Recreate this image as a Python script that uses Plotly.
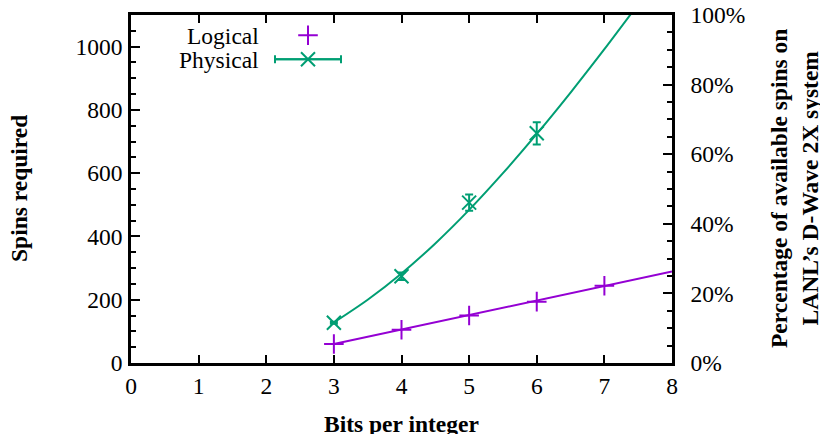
import plotly.graph_objects as go

# ---- data ----
bits = [3, 4, 5, 6, 7]
logical = [60, 105, 150, 194, 244]
logical_fit_x = [3, 8]
logical_fit_y = [60, 289]

phys_bits = [3, 4, 5, 6]
physical = [127, 274, 507, 726]
physical_err = [3, 12, 26, 35]
phys_fit_x = [3, 3.5, 4, 4.5, 5, 5.5, 6, 6.5, 7, 7.5]
phys_fit_y = [128, 200, 283, 378, 484, 600, 724, 855, 992, 1134]

x_ticks = [0, 1, 2, 3, 4, 5, 6, 7, 8]
y_ticks = [0, 200, 400, 600, 800, 1000]
machine_spins = 1100  # 100% on the right axis

PURPLE = "#9400D3"
GREEN = "#009E73"
FONT = "Liberation Serif"
FS = 23.5

# plot area in pixels
L, R, T, B = 131, 672, 14.7, 363.3
W, H = 820, 434

fig = go.Figure()

# Logical fit line + points
fig.add_trace(go.Scatter(x=logical_fit_x, y=logical_fit_y, mode="lines",
                         line=dict(color=PURPLE, width=2), showlegend=False))
fig.add_trace(go.Scatter(x=bits, y=logical, mode="markers",
                         marker=dict(symbol="cross-thin", size=14,
                                     line=dict(color=PURPLE, width=2)),
                         showlegend=False))
# Physical fit curve + points with error bars
fig.add_trace(go.Scatter(x=phys_fit_x, y=phys_fit_y, mode="lines",
                         line=dict(color=GREEN, width=2, shape="spline", smoothing=0.8),
                         showlegend=False))
fig.add_trace(go.Scatter(x=phys_bits, y=physical, mode="markers",
                         marker=dict(symbol="x-thin", size=14,
                                     line=dict(color=GREEN, width=2)),
                         error_y=dict(type="data", array=physical_err, color=GREEN,
                                      thickness=2, width=4),
                         showlegend=False))

# dummy trace to activate right axis
fig.add_trace(go.Scatter(x=[0], y=[0], yaxis="y2", mode="markers",
                         marker=dict(opacity=0), showlegend=False, hoverinfo="skip"))

# ---- legend keys (pixel-space hidden axes) ----
fig.add_trace(go.Scatter(x=[308], y=[35], xaxis="x3", yaxis="y3", mode="markers",
                         marker=dict(symbol="cross-thin", size=14,
                                     line=dict(color=PURPLE, width=2)),
                         showlegend=False, hoverinfo="skip"))
fig.add_trace(go.Scatter(x=[275, 341], y=[59, 59], xaxis="x3", yaxis="y3", mode="lines",
                         line=dict(color=GREEN, width=2), showlegend=False, hoverinfo="skip"))
fig.add_trace(go.Scatter(x=[308], y=[59], xaxis="x3", yaxis="y3", mode="markers",
                         marker=dict(symbol="x-thin", size=14,
                                     line=dict(color=GREEN, width=2)),
                         error_x=dict(type="constant", value=33, color=GREEN,
                                      thickness=2, width=4),
                         showlegend=False, hoverinfo="skip"))

def px_x(p):
    return (p - L) / (R - L)

def px_y(p):
    return (B - p) / (B - T)

tickfont = dict(family=FONT, size=FS, color="black")
titlefont = dict(family=FONT, size=FS, color="black")

annotations = [
    dict(text="Logical", x=px_x(261), y=px_y(36), xref="paper", yref="paper",
         xanchor="right", yanchor="middle", showarrow=False, font=tickfont),
    dict(text="Physical", x=px_x(261), y=px_y(60), xref="paper", yref="paper",
         xanchor="right", yanchor="middle", showarrow=False, font=tickfont),
    dict(text="<b>Spins required</b>", x=px_x(19), y=0.5, xref="paper", yref="paper",
         xanchor="center", yanchor="middle", textangle=-90, showarrow=False, font=titlefont),
    dict(text="<b>Percentage of available spins on<br>LANL’s D-Wave 2X system</b>",
         x=px_x(794), y=0.5, xref="paper", yref="paper",
         xanchor="center", yanchor="middle", textangle=-90, showarrow=False, font=titlefont),
    dict(text="<b>Bits per integer</b>", x=0.5, y=px_y(424), xref="paper", yref="paper",
         xanchor="center", yanchor="middle", showarrow=False, font=titlefont),
]

fig.update_layout(
    width=W, height=H,
    margin=dict(l=L, r=W - R, t=T, b=H - B, pad=0, autoexpand=False),
    paper_bgcolor="white", plot_bgcolor="white",
    showlegend=False,
    annotations=annotations,
    xaxis=dict(range=[0, 8], tickvals=x_ticks, ticks="inside", ticklen=8, tickwidth=1.5,
               tickcolor="black", showline=True, linecolor="black", linewidth=2.5,
               mirror="ticks", showgrid=False, zeroline=False, tickfont=tickfont,
               ticklabelstandoff=0, automargin=False),
    yaxis=dict(range=[0, machine_spins], tickvals=y_ticks, ticks="inside", ticklen=9,
               tickwidth=1.5, tickcolor="black", showline=True, linecolor="black",
               linewidth=2.5, showgrid=False, zeroline=False, tickfont=tickfont,
               ticklabelstandoff=1, automargin=False,
               minor=dict(dtick=50, ticks="inside", ticklen=5, tickwidth=1.5,
                          tickcolor="black", showgrid=False)),
    yaxis2=dict(range=[0, 1], overlaying="y", side="right", dtick=0.2, tickformat=".0%",
                ticks="inside", ticklen=9, tickwidth=1.5, tickcolor="black",
                showline=True, linecolor="black", linewidth=2.5, showgrid=False,
                zeroline=False, tickfont=tickfont, ticklabelstandoff=11, automargin=False,
                minor=dict(dtick=0.05, ticks="inside", ticklen=5, tickwidth=1.5,
                           tickcolor="black", showgrid=False)),
    xaxis3=dict(range=[L, R], overlaying="x", visible=False, fixedrange=True,
                automargin=False),
    yaxis3=dict(range=[B, T], overlaying="y", visible=False, fixedrange=True,
                automargin=False),
)

fig.write_html("out.html", config={"displayModeBar": False},
               post_script="document.body.style.margin='0';document.body.style.overflow='hidden';")
